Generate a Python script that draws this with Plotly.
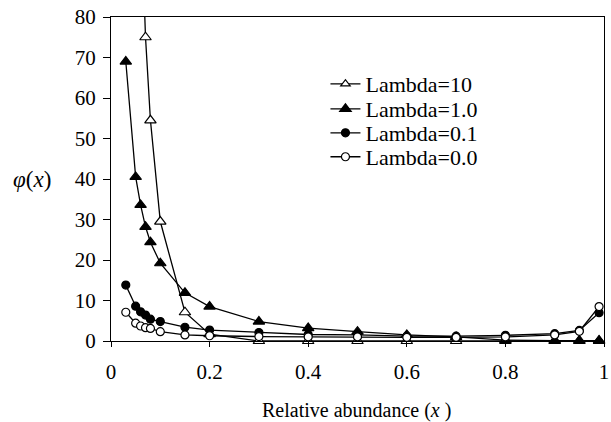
import plotly.graph_objects as go

x = [0.03, 0.05, 0.06, 0.07, 0.08, 0.10, 0.15, 0.2, 0.3, 0.4, 0.5, 0.6, 0.7, 0.8, 0.9, 0.95, 0.99]
lam10 = [300, 160, 110, 75.0, 54.5, 29.5, 7.1, 1.7, 0.0, 0.0, 0.0, 0.0, 0.0, 0.0, 0.0, 0.0, 0.0]
lam1 = [69.0, 40.5, 33.6, 28.2, 24.4, 19.2, 11.9, 8.5, 4.8, 3.2, 2.3, 1.5, 1.0, 0.2, 0.1, 0.1, 0.1]
lam01 = [13.8, 8.6, 7.2, 6.4, 5.4, 4.8, 3.4, 2.7, 2.1, 1.6, 1.5, 1.2, 1.2, 1.4, 1.8, 2.6, 7.0]
lam00 = [7.1, 4.4, 3.7, 3.3, 3.1, 2.3, 1.5, 1.3, 1.1, 1.0, 1.0, 0.9, 0.9, 1.0, 1.5, 2.4, 8.5]

x_ticks = [0, 0.2, 0.4, 0.6, 0.8, 1.0]
x_ticklabels = ["0", "0.2", "0.4", "0.6", "0.8", "1"]
y_ticks = [0, 10, 20, 30, 40, 50, 60, 70, 80]
y_max = 80

series = [
    ("Lambda=10", lam10, "triangle-up", "white", 10, "legend", 0.793),
    ("Lambda=1.0", lam1, "triangle-up", "black", 10, "legend2", 0.716),
    ("Lambda=0.1", lam01, "circle", "black", 8, "legend3", 0.642),
    ("Lambda=0.0", lam00, "circle", "white", 8, "legend4", 0.568),
]

font_family = "'Times New Roman', 'Liberation Serif', serif"

fig = go.Figure()
legends = {}
for name, ys, sym, fill, sz, lg, ly in series:
    sizes = [sz if v <= y_max else 0 for v in ys]
    fig.add_trace(go.Scatter(
        x=x, y=ys, name=name, mode="lines+markers", legend=lg,
        line=dict(color="black", width=1.3),
        marker=dict(symbol=sym, color=fill, size=sizes, opacity=1,
                    line=dict(color="black", width=1.2)),
        cliponaxis=False,
    ))
    legends[lg] = dict(x=0.435, y=ly, xanchor="left", yanchor="middle",
                       bgcolor="rgba(0,0,0,0)",
                       font=dict(size=22, family=font_family, color="black"),
                       itemwidth=30)

fig.update_layout(
    width=611, height=422,
    margin=dict(l=111, r=2, t=17, b=81),
    plot_bgcolor="white", paper_bgcolor="white",
    font=dict(family=font_family, size=21, color="black"),
    showlegend=True,
    xaxis=dict(range=[0, 1], tickvals=x_ticks, ticktext=x_ticklabels,
               showgrid=False, zeroline=False, showline=True, linecolor="black",
               linewidth=1, mirror=True, ticks="outside", ticklen=12,
               tickcolor="rgba(0,0,0,0)", ticklabeloverflow="allow",
               tickfont=dict(family=font_family, size=21),
               minor=dict(tickvals=x_ticks, ticks="outside", ticklen=5,
                          tickcolor="black", showgrid=False)),
    yaxis=dict(range=[0, y_max], tickvals=y_ticks, showgrid=False, zeroline=False,
               showline=True, linecolor="black", linewidth=1, mirror=True,
               ticks="outside", ticklen=10, tickcolor="rgba(0,0,0,0)",
               tickfont=dict(family=font_family, size=21),
               minor=dict(tickvals=y_ticks, ticks="outside", ticklen=7,
                          tickcolor="black", showgrid=False)),
    annotations=[
        dict(text="<i>φ</i>(<i>x</i>)", x=-0.161, y=0.497, xref="paper",
             yref="paper", showarrow=False,
             font=dict(size=23, family=font_family),
             xanchor="center", yanchor="middle"),
        dict(text="Relative abundance (<i>x</i> )", x=0.498, y=-0.216, xref="paper",
             yref="paper", showarrow=False,
             font=dict(size=20, family=font_family),
             xanchor="center", yanchor="middle"),
    ],
)
fig.update_layout(**legends)

fig.write_html("out.html", config={"displayModeBar": False},
               post_script="document.body.style.margin='0';")
